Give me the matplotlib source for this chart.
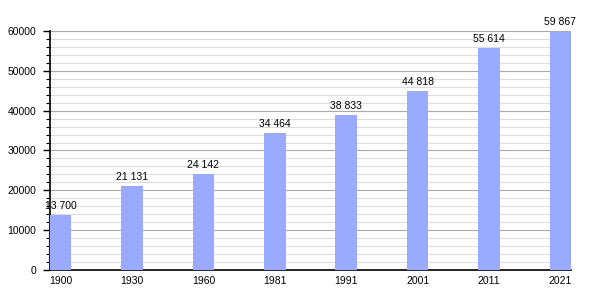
"""Population bar chart, census years"""

import matplotlib

matplotlib.use("Agg")
import matplotlib.pyplot as plt
from matplotlib.ticker import MultipleLocator

years = ["1900", "1930", "1960", "1981", "1991", "2001", "2011", "2021"]
population = [13700, 21131, 24142, 34464, 38833, 44818, 55614, 59867]
value_labels = ["13 700", "21 131", "24 142", "34 464", "38 833", "44 818", "55 614", "59 867"]

plt.rcParams["font.family"] = ["Liberation Sans", "DejaVu Sans"]

fig = plt.figure(figsize=(6, 3), dpi=100)
ax = fig.add_axes([0.0833, 0.1, 0.8684, 0.7967])

width = 0.3
xs = list(range(len(years)))
bars = ax.bar(xs, population, width=width, color="#99aaff", zorder=3)
ax.bar_label(bars, labels=value_labels, padding=3, fontsize=7.5, color="black")

ax.set_xlim(-width / 2, len(years) - 1 + width / 2)
ax.set_ylim(0, 60000)
ax.set_xticks(xs, years)
ax.yaxis.set_major_locator(MultipleLocator(10000))
ax.yaxis.set_minor_locator(MultipleLocator(2000))

ax.grid(axis="y", which="major", color="#aaaaaa", lw=0.8, zorder=0)
ax.grid(axis="y", which="minor", color="#dddddd", lw=0.8, zorder=0)

for side in ["top", "right"]:
    ax.spines[side].set_visible(False)
ax.spines["left"].set_linewidth(1.2)
ax.spines["bottom"].set_linewidth(1.2)

ax.tick_params(axis="y", which="major", length=5, width=1, labelsize=7.5, pad=5)
ax.tick_params(axis="y", which="minor", length=3, width=0.8)
ax.tick_params(axis="x", length=0, labelsize=7.5, pad=4)

fig.savefig("out.png", dpi=100)
